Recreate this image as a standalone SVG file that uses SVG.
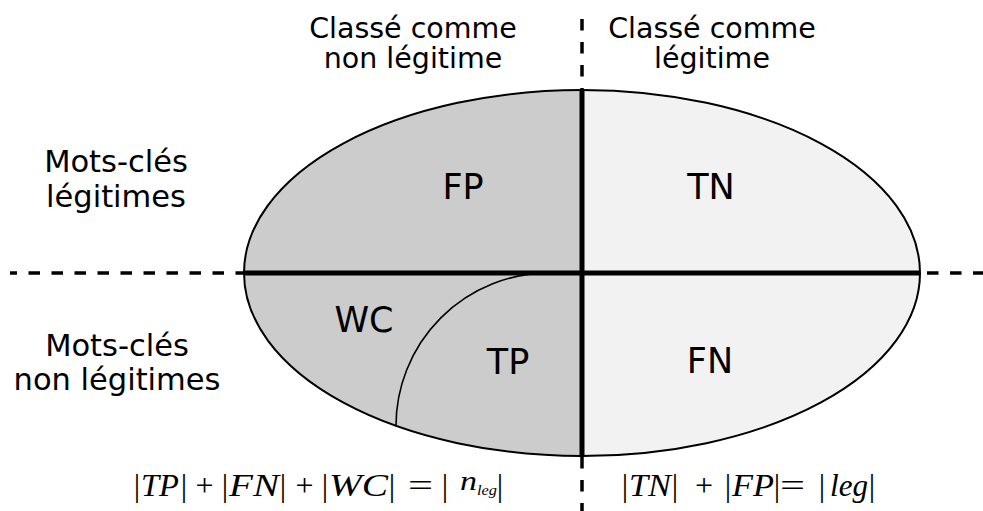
<svg xmlns="http://www.w3.org/2000/svg" width="983" height="511" viewBox="0 0 983 511">
<style>
.lbl{font-family:"DejaVu Sans",sans-serif;fill:#000;text-anchor:middle}
.top{font-size:28.5px}
.side{font-size:30.5px}
.big{font-size:35px}
.m{font-family:"Liberation Serif",serif;font-size:32px;fill:#000;text-anchor:middle}
.v{font-family:"Liberation Serif",serif;font-size:32px;font-style:italic;fill:#000}
.thick{stroke:#000;stroke-width:5;fill:none}
.dash{stroke:#000;stroke-width:3.5;fill:none;stroke-dasharray:11.5 11.5}
.outline{stroke:#000;stroke-width:2;fill:none}
</style>
<rect width="983" height="511" fill="#fff"/>
<g id="left-half">
<path d="M582,90 A338,183 0 0 0 582,456 Z" fill="#cccccc"/>
</g>
<g id="right-half">
<path d="M582,90 A338,183 0 0 1 582,456 Z" fill="#f2f2f2"/>
</g>
<g id="connectors">
<ellipse class="outline" cx="582" cy="273" rx="338" ry="183"/>
<path d="M549,273 A153,153 0 0 0 396,426" stroke="#000" stroke-width="1.6" fill="none"/>
<path class="thick" d="M244,273 H920"/>
<path class="thick" d="M582,90 V457"/>
<path class="dash" d="M10,273 H244" style="stroke-dashoffset:4.5"/>
<path class="dash" d="M927,273 H983"/>
<path class="dash" d="M582,19 V90"/>
<path class="dash" d="M582,457 V511"/>
</g>
<g id="col-nonleg">
<text class="lbl top" x="413" y="38">Classé comme</text>
<text class="lbl top" x="413" y="68">non légitime</text>
</g>
<g id="col-leg">
<text class="lbl top" x="712" y="38">Classé comme</text>
<text class="lbl top" x="712" y="68">légitime</text>
</g>
<g id="row-leg">
<text class="lbl side" x="116" y="172">Mots-clés</text>
<text class="lbl side" x="116" y="207">légitimes</text>
</g>
<g id="row-nonleg">
<text class="lbl side" x="117" y="356">Mots-clés</text>
<text class="lbl side" x="117" y="390">non légitimes</text>
</g>
<g id="FP"><text class="lbl big" x="463" y="199">FP</text></g>
<g id="TN"><text class="lbl big" x="711" y="199">TN</text></g>
<g id="WC"><text class="lbl big" x="364" y="332">WC</text></g>
<g id="TP"><text class="lbl big" x="508" y="374">TP</text></g>
<g id="FN"><text class="lbl big" x="710" y="373">FN</text></g>
<g id="formula-left">
<text class="m" x="137" y="496">|</text>
<text class="v" x="141" y="496" textLength="38" lengthAdjust="spacingAndGlyphs">TP</text>
<text class="m" x="184" y="496">|</text>
<text class="m" x="204.5" y="496">+</text>
<text class="m" x="225" y="496">|</text>
<text class="v" x="229" y="496" textLength="50" lengthAdjust="spacingAndGlyphs">FN</text>
<text class="m" x="283" y="496">|</text>
<text class="m" x="304.5" y="496">+</text>
<text class="m" x="325" y="496">|</text>
<text class="v" x="329" y="496" textLength="59" lengthAdjust="spacingAndGlyphs">WC</text>
<text class="m" x="392" y="496">|</text>
<text class="m" x="420.5" y="496" textLength="25" lengthAdjust="spacingAndGlyphs">=</text>
<text class="m" x="445" y="496">|</text>
<text class="v" x="460" y="490" style="font-size:28px" textLength="17" lengthAdjust="spacingAndGlyphs">n</text>
<text class="v" x="477" y="495" style="font-size:14px" textLength="20" lengthAdjust="spacingAndGlyphs">leg</text>
<text class="m" x="500" y="496">|</text>
</g>
<g id="formula-right">
<text class="m" x="625" y="496">|</text>
<text class="v" x="629" y="496" textLength="42" lengthAdjust="spacingAndGlyphs">TN</text>
<text class="m" x="675" y="496">|</text>
<text class="m" x="704" y="496">+</text>
<text class="m" x="728" y="496">|</text>
<text class="v" x="732" y="496" textLength="42" lengthAdjust="spacingAndGlyphs">FP</text>
<text class="m" x="777" y="496">|</text>
<text class="m" x="792.5" y="496" textLength="25" lengthAdjust="spacingAndGlyphs">=</text>
<text class="m" x="822" y="496">|</text>
<text class="v" x="830" y="496" textLength="38" lengthAdjust="spacingAndGlyphs">leg</text>
<text class="m" x="872" y="496">|</text>
</g>
</svg>
